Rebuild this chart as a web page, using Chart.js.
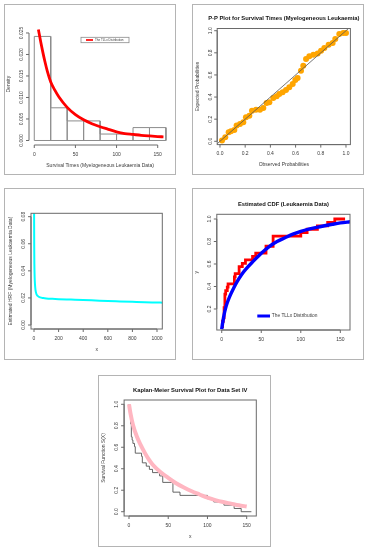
<!DOCTYPE html>
<html>
<head>
<meta charset="utf-8">
<script src="https://cdn.jsdelivr.net/npm/chart.js@4.4.0/dist/chart.umd.min.js"></script>
<style>
  body { margin: 0; background: #fff; width: 368px; height: 550px; position: relative; overflow: hidden; }
  canvas { position: absolute; }
  .frame { position: absolute; border: 1px solid #b4b4b4; box-sizing: border-box; pointer-events: none; }
</style>
</head>
<body>
<canvas id="histChart"></canvas>
<canvas id="ppChart"></canvas>
<canvas id="hrfChart"></canvas>
<canvas id="cdfChart"></canvas>
<canvas id="kmChart"></canvas>
<script>
// histogram of survival times
const histBreaks = [0, 20, 40, 60, 80, 100, 120, 140, 160];
const histDensity = [0.0242, 0.0076, 0.00455, 0.00455, 0.0015, 0.0015, 0.003, 0.003];
// fitted TLLx density (red curve)
const pdfX = [5, 8, 10, 13, 16, 20, 25, 30, 40, 50, 60, 70, 80, 90, 100, 110, 120, 130, 140, 150, 157];
const pdfY = [0.0258, 0.0228, 0.0209, 0.0183, 0.016, 0.0136, 0.0117, 0.0101, 0.0077, 0.006, 0.0048, 0.0039,
              0.0032, 0.0026, 0.002, 0.0016, 0.0014, 0.0012, 0.00105, 0.00092, 0.00085];

// P-P plot points
const ppObs = [0.016, 0.042, 0.069, 0.087, 0.114, 0.132, 0.159, 0.185, 0.206, 0.233, 0.254, 0.286, 0.317,
               0.344, 0.37, 0.392, 0.423, 0.45, 0.471, 0.497, 0.524, 0.55, 0.577, 0.598, 0.616, 0.643,
               0.661, 0.683, 0.709, 0.741, 0.775, 0.802, 0.828, 0.862, 0.894, 0.915, 0.947, 0.979, 1.0];
const ppExp = [0.006, 0.036, 0.081, 0.09, 0.102, 0.142, 0.157, 0.172, 0.217, 0.232, 0.277, 0.286, 0.286,
               0.301, 0.346, 0.352, 0.392, 0.407, 0.428, 0.443, 0.464, 0.488, 0.518, 0.554, 0.572, 0.639,
               0.684, 0.744, 0.768, 0.783, 0.795, 0.819, 0.843, 0.873, 0.889, 0.925, 0.97, 0.979, 0.979];

// estimated hazard rate (cyan)
const hrfX = [0.3, 1, 2, 3, 5, 8, 12, 20, 30, 50, 75, 100, 150, 200, 300, 400, 500, 600, 700, 800, 900, 1000, 1045];
const hrfY = [0.12, 0.075, 0.055, 0.045, 0.036, 0.03, 0.026, 0.0228, 0.0215, 0.0204, 0.0199, 0.0196, 0.0193,
              0.0191, 0.0188, 0.0185, 0.0181, 0.0177, 0.0174, 0.0171, 0.0168, 0.0166, 0.0165];

// empirical CDF steps (red) and fitted CDF (blue)
const ecdfX = [1, 1, 2, 3, 3, 3, 4, 4, 4, 4, 5, 7, 8, 16, 16, 17, 22, 22, 26, 30, 39, 43, 56, 56, 65, 65, 65,
               100, 108, 121, 134, 143, 156];
const ecdfY = [0.03, 0.061, 0.091, 0.121, 0.152, 0.182, 0.212, 0.242, 0.273, 0.303, 0.333, 0.364, 0.394,
               0.424, 0.455, 0.485, 0.515, 0.545, 0.576, 0.606, 0.636, 0.667, 0.697, 0.727, 0.758, 0.788,
               0.818, 0.848, 0.879, 0.909, 0.939, 0.97, 1.0];
const cdfX = [0, 1, 2, 3, 5, 7, 10, 15, 20, 25, 30, 40, 50, 60, 70, 80, 90, 100, 110, 120, 130, 140, 150, 163];
const cdfY = [0.02, 0.07, 0.11, 0.15, 0.21, 0.255, 0.31, 0.385, 0.45, 0.505, 0.55, 0.625, 0.695, 0.755, 0.8,
              0.833, 0.865, 0.89, 0.91, 0.926, 0.94, 0.953, 0.965, 0.976];

// Kaplan-Meier steps (grey) and fitted survival (pink)
const kmX = [0, 1, 2, 3, 4, 5, 7, 8, 16, 17, 22, 26, 30, 39, 43, 56, 65, 100, 108, 121, 134, 143, 156];
const kmY = [1, 0.939, 0.909, 0.818, 0.697, 0.667, 0.636, 0.606, 0.545, 0.515, 0.455, 0.424, 0.394, 0.364,
             0.333, 0.273, 0.182, 0.152, 0.121, 0.091, 0.061, 0.03, 0];
const survX = [0, 2, 5, 10, 15, 20, 25, 30, 40, 50, 60, 70, 80, 90, 100, 110, 120, 130, 140, 150];
const survY = [1.0, 0.91, 0.81, 0.7, 0.62, 0.55, 0.49, 0.44, 0.37, 0.315, 0.265, 0.225, 0.19, 0.16, 0.13,
               0.108, 0.09, 0.075, 0.06, 0.048];

const FONT = "'Liberation Sans', Arial, sans-serif";
const AXIS = '#6a6a6a';
const INK = '#3a3a3a';

function pairs(xs, ys) {
    return xs.map((v, i) => ({ x: v, y: ys[i] }));
}

// outline of the histogram bars: up, across, down for each bin, then back along the base
function histOutline(breaks, dens) {
    const pts = [{ x: breaks[0], y: 0 }];
    dens.forEach((d, i) => {
        pts.push({ x: breaks[i], y: d }, { x: breaks[i + 1], y: d }, { x: breaks[i + 1], y: 0 });
    });
    pts.push({ x: breaks[0], y: 0 });
    return pts;
}

// R-style axes, box, titles and legends
const rPlot = {
    id: 'rPlot',
    afterDraw(chart, args, o) {
        const ctx = chart.ctx;
        const a = chart.chartArea;
        const sx = chart.scales.x, sy = chart.scales.y;
        ctx.save();
        ctx.lineWidth = 1;
        ctx.strokeStyle = AXIS;
        ctx.fillStyle = INK;
        if (o.box) ctx.strokeRect(a.left, a.top, a.right - a.left, a.bottom - a.top);

        const xt = o.xTicks, yt = o.yTicks;
        ctx.beginPath();
        ctx.moveTo(sx.getPixelForValue(xt[0]), a.bottom);
        ctx.lineTo(sx.getPixelForValue(xt[xt.length - 1]), a.bottom);
        xt.forEach(v => {
            const px = sx.getPixelForValue(v);
            ctx.moveTo(px, a.bottom);
            ctx.lineTo(px, a.bottom + 3);
        });
        ctx.moveTo(a.left, sy.getPixelForValue(yt[0]));
        ctx.lineTo(a.left, sy.getPixelForValue(yt[yt.length - 1]));
        yt.forEach(v => {
            const py = sy.getPixelForValue(v);
            ctx.moveTo(a.left, py);
            ctx.lineTo(a.left - 3, py);
        });
        ctx.stroke();

        ctx.font = '5px ' + FONT;
        ctx.textAlign = 'center';
        ctx.textBaseline = 'middle';
        xt.forEach(v => ctx.fillText(v.toFixed(o.xDigits), sx.getPixelForValue(v), a.bottom + 9.5));
        yt.forEach(v => {
            ctx.save();
            ctx.translate(a.left - 7, sy.getPixelForValue(v));
            ctx.rotate(-Math.PI / 2);
            ctx.fillText(v.toFixed(o.yDigits), 0, 0);
            ctx.restore();
        });

        const cx = (a.left + a.right) / 2, cy = (a.top + a.bottom) / 2;
        if (o.xTitle) ctx.fillText(o.xTitle, cx, a.bottom + 20.5);
        if (o.yTitle) {
            ctx.save();
            ctx.translate(a.left - 20, cy);
            ctx.rotate(-Math.PI / 2);
            ctx.fillText(o.yTitle, 0, 0);
            ctx.restore();
        }
        if (o.title) {
            ctx.fillStyle = '#111';
            ctx.font = 'bold 5.8px ' + FONT;
            ctx.fillText(o.title, cx, a.top - 10);
        }

        const lg = o.legend;
        if (lg) {
            if (lg.box) {
                ctx.strokeStyle = '#8a8a8a';
                ctx.lineWidth = 0.8;
                ctx.strokeRect(lg.box[0], lg.box[1], lg.box[2], lg.box[3]);
            }
            ctx.strokeStyle = lg.color;
            ctx.lineWidth = lg.width;
            ctx.beginPath();
            ctx.moveTo(lg.x0, lg.y);
            ctx.lineTo(lg.x1, lg.y);
            ctx.stroke();
            ctx.fillStyle = INK;
            ctx.font = lg.size + 'px ' + FONT;
            ctx.textAlign = 'left';
            ctx.fillText(lg.text, lg.x1 + lg.gap, lg.y);
        }
        ctx.restore();
    }
};

// frame = [left, top, width, height] on the page, area = [left, top, right, bottom] of the plot region
function panel(id, frame, area, xr, yr, datasets, deco) {
    const cv = document.getElementById(id);
    cv.style.left = frame[0] + 'px';
    cv.style.top = frame[1] + 'px';
    cv.width = frame[2];
    cv.height = frame[3];
    const fr = document.createElement('div');
    fr.className = 'frame';
    fr.style.left = frame[0] + 'px';
    fr.style.top = frame[1] + 'px';
    fr.style.width = frame[2] + 'px';
    fr.style.height = frame[3] + 'px';
    document.body.appendChild(fr);

    return new Chart(cv, {
        type: 'line',
        data: { datasets: datasets },
        options: {
            responsive: false,
            animation: false,
            devicePixelRatio: 1,
            events: [],
            layout: {
                padding: {
                    left: area[0] - frame[0],
                    top: area[1] - frame[1],
                    right: frame[0] + frame[2] - area[2],
                    bottom: frame[1] + frame[3] - area[3]
                }
            },
            scales: {
                x: { type: 'linear', display: false, min: xr[0], max: xr[1] },
                y: { type: 'linear', display: false, min: yr[0], max: yr[1] }
            },
            plugins: { legend: { display: false }, tooltip: { enabled: false }, rPlot: deco }
        },
        plugins: [rPlot]
    });
}

panel('histChart', [4, 4, 172, 171], [29, 23.3, 171.2, 145], [-6.4, 166.4], [-0.00105, 0.02725], [
    {
        data: pairs(pdfX, pdfY), borderColor: '#ff0000', borderWidth: 2.8,
        pointRadius: 0, cubicInterpolationMode: 'monotone'
    },
    {
        data: histOutline(histBreaks, histDensity), borderColor: '#8c8c8c', borderWidth: 1,
        pointRadius: 0, fill: false
    }
], {
    box: false, xTicks: [0, 50, 100, 150], yTicks: [0, 0.005, 0.01, 0.015, 0.02, 0.025], xDigits: 0, yDigits: 3,
    xTitle: 'Survival Times (Myelogeneous Leukaemia Data)', yTitle: 'Density',
    legend: { box: [77, 33.3, 48, 5.4], x0: 82, x1: 89, y: 36, color: '#ff0000', width: 1.7, size: 3, gap: 2,
              text: 'The TLLx Distribution' }
});

panel('ppChart', [192, 4, 172, 171], [217.2, 28.5, 350.4, 144.6], [-0.022, 1.035], [-0.03, 1.02], [
    {
        data: pairs([-0.05, 1.05], [-0.05, 1.05]), borderColor: '#555', borderWidth: 0.8,
        pointRadius: 0
    },
    {
        type: 'scatter', data: pairs(ppObs, ppExp), backgroundColor: '#ffa500', borderWidth: 0,
        pointRadius: 3, showLine: false
    }
], {
    box: true, xTicks: [0, 0.2, 0.4, 0.6, 0.8, 1], yTicks: [0, 0.2, 0.4, 0.6, 0.8, 1], xDigits: 1, yDigits: 1,
    title: 'P-P Plot for Survival Times (Myelogeneous Leukaemia)',
    xTitle: 'Observed Probabilities', yTitle: 'Expected Probabilities'
});

panel('hrfChart', [4, 188, 172, 172], [31, 213.3, 162.3, 329], [-24.4, 1043], [-0.00295, 0.0825], [
    {
        data: pairs(hrfX, hrfY), borderColor: '#00ffff', borderWidth: 2,
        pointRadius: 0, cubicInterpolationMode: 'monotone'
    }
], {
    box: true, xTicks: [0, 200, 400, 600, 800, 1000], yTicks: [0, 0.02, 0.04, 0.06, 0.08], xDigits: 0, yDigits: 2,
    xTitle: 'x', yTitle: 'Estimated HRF (Myelogeneous Leukaemia Data)'
});

panel('cdfChart', [192, 188, 172, 172], [216.8, 214.3, 350, 330], [-6.24, 162.24], [0.0133, 1.0418], [
    {
        data: pairs(cdfX, cdfY), borderColor: '#0000ff', borderWidth: 3.4,
        pointRadius: 0, cubicInterpolationMode: 'monotone'
    },
    {
        data: pairs(ecdfX, ecdfY), borderColor: '#ff0000', borderWidth: 2.8,
        pointRadius: 0, stepped: 'after'
    }
], {
    box: true, xTicks: [0, 50, 100, 150], yTicks: [0.2, 0.4, 0.6, 0.8, 1], xDigits: 0, yDigits: 1,
    title: 'Estimated CDF (Leukaemia Data)', yTitle: 'y',
    legend: { x0: 65.3, x1: 78, y: 128, color: '#0000ff', width: 3, size: 4.8, gap: 1.8, text: 'The TLLx Distribution' }
});

panel('kmChart', [98, 375, 173, 172], [124.1, 400, 256.3, 516], [-6.24, 162.24], [-0.04, 1.04], [
    {
        data: pairs(survX, survY), borderColor: '#ffb6c1', borderWidth: 4,
        pointRadius: 0, cubicInterpolationMode: 'monotone'
    },
    {
        data: pairs(kmX, kmY), borderColor: '#555', borderWidth: 0.9,
        pointRadius: 0, stepped: 'after'
    }
], {
    box: true, xTicks: [0, 50, 100, 150], yTicks: [0, 0.2, 0.4, 0.6, 0.8, 1], xDigits: 0, yDigits: 1,
    title: 'Kaplan-Meier Survival Plot for Data Set IV', xTitle: 'x', yTitle: 'Survival Function S(X)'
});
</script>
</body>
</html>
